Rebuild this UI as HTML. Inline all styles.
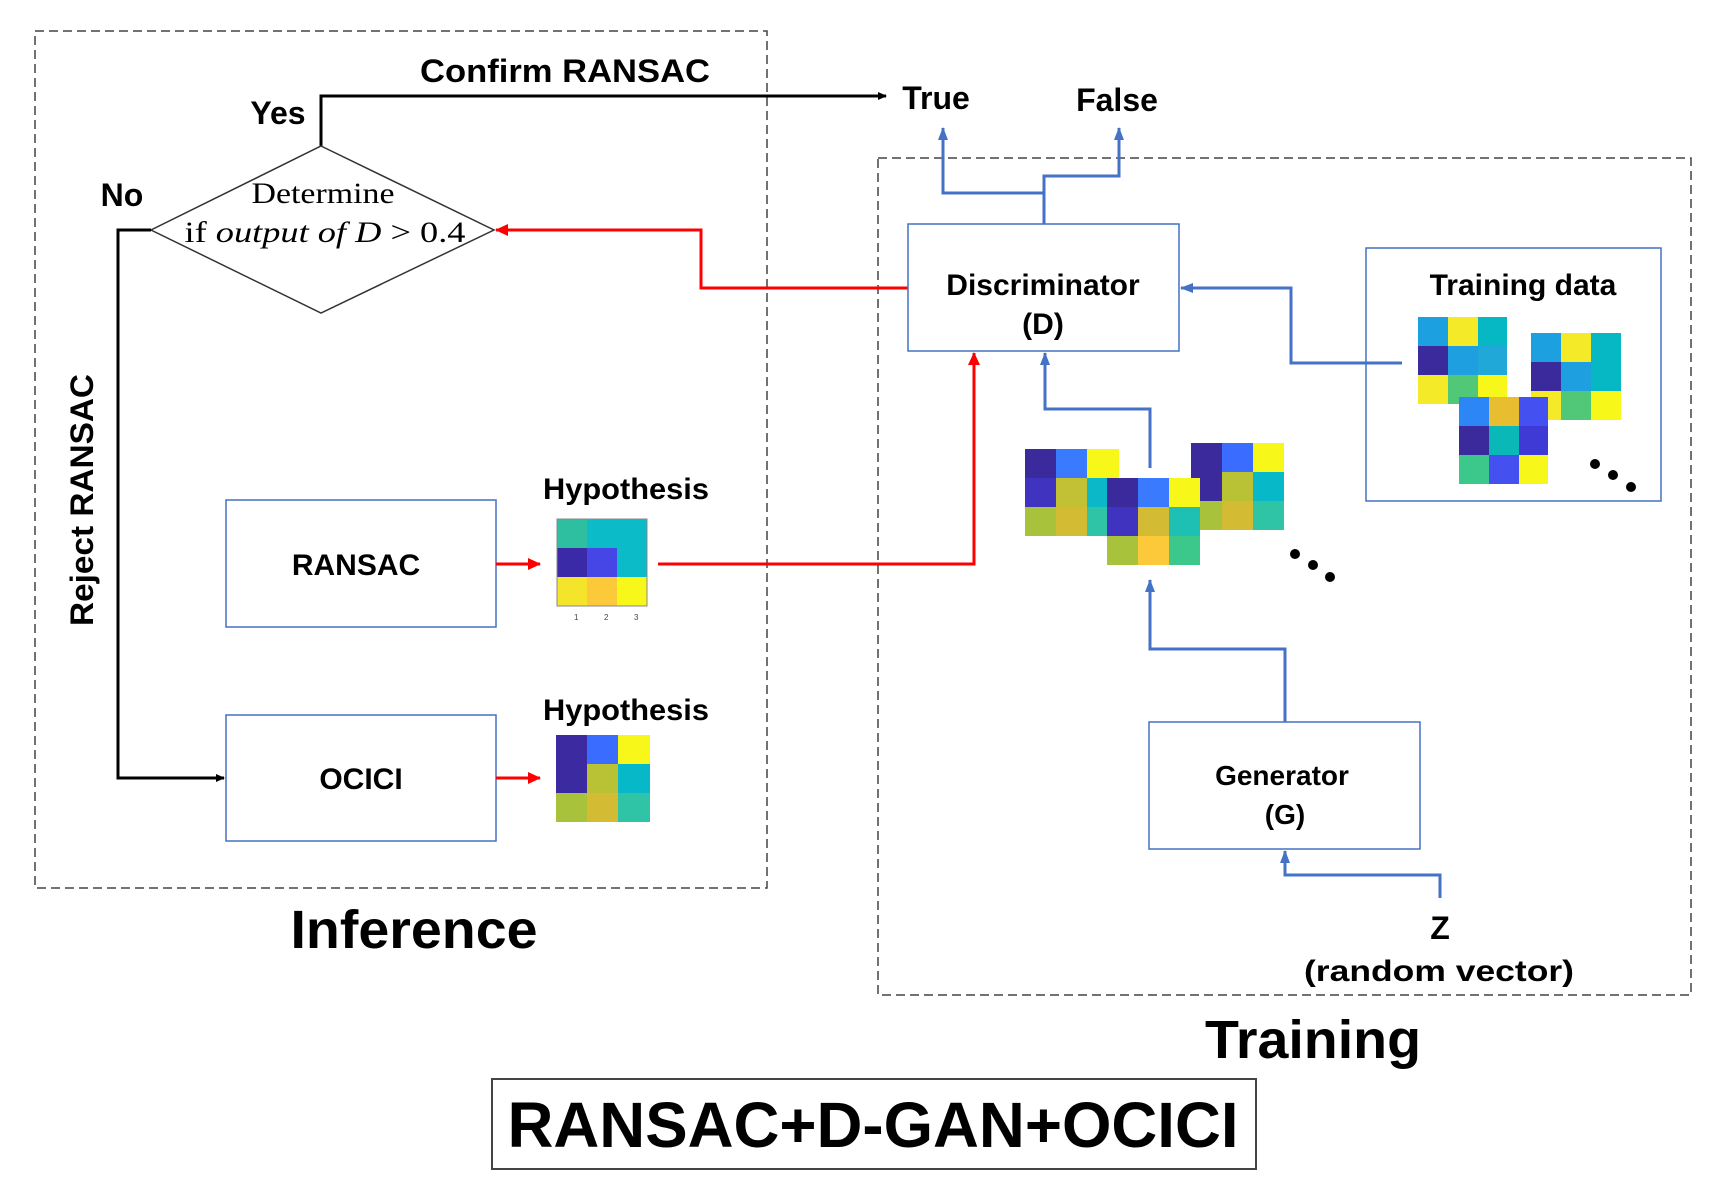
<!DOCTYPE html>
<html><head><meta charset="utf-8"><style>
html,body{margin:0;padding:0;background:#fff;}
svg{display:block;}
.b{font-family:"Liberation Sans",sans-serif;font-weight:bold;fill:#000;}
.s{font-family:"Liberation Serif",serif;fill:#000;}
</style></head><body>
<svg width="1718" height="1196" viewBox="0 0 1718 1196" xmlns="http://www.w3.org/2000/svg">
<defs>
<marker id="ak" markerWidth="10" markerHeight="10" refX="8" refY="5" orient="auto" markerUnits="userSpaceOnUse"><path d="M0,1 L9,5 L0,9 z" fill="#000"/></marker>
<marker id="ar" markerWidth="14" markerHeight="14" refX="12" refY="7" orient="auto" markerUnits="userSpaceOnUse"><path d="M0,1 L13,7 L0,13 z" fill="#f00"/></marker>
<marker id="ab" markerWidth="14" markerHeight="14" refX="12" refY="7" orient="auto" markerUnits="userSpaceOnUse"><path d="M0,2 L13,7 L0,12 z" fill="#4472c4"/></marker>
</defs>

<rect x="35" y="31" width="732" height="857" fill="none" stroke="#444" stroke-width="1.5" stroke-dasharray="9,5"/>
<rect x="878" y="158" width="813" height="837" fill="none" stroke="#444" stroke-width="1.5" stroke-dasharray="9,5"/>

<text class="b" x="565" y="82" font-size="32" text-anchor="middle" textLength="290" lengthAdjust="spacingAndGlyphs">Confirm RANSAC</text>
<polyline points="321,146 321,96 886,96" fill="none" stroke="#000" stroke-width="3" marker-end="url(#ak)"/>
<text class="b" x="278" y="124" font-size="32" text-anchor="middle">Yes</text>
<text class="b" x="122" y="206" font-size="32" text-anchor="middle">No</text>
<polygon points="321,146 494,230 321,313 151,230" fill="#fff" stroke="#333" stroke-width="1.5"/>
<text class="s" x="323" y="203" font-size="30" text-anchor="middle" textLength="143" lengthAdjust="spacingAndGlyphs">Determine</text>
<text class="s" x="325" y="242" font-size="30" text-anchor="middle" textLength="281" lengthAdjust="spacingAndGlyphs">if <tspan font-style="italic">output of D</tspan> &gt; 0.4</text>
<polyline points="151,230 118,230 118,778 224,778" fill="none" stroke="#000" stroke-width="3" marker-end="url(#ak)"/>
<text class="b" x="0" y="0" font-size="32" text-anchor="middle" transform="translate(93,500) rotate(-90)" textLength="252" lengthAdjust="spacingAndGlyphs">Reject RANSAC</text>

<rect x="226" y="500" width="270" height="127" fill="#fff" stroke="#4472c4" stroke-width="1.5"/>
<text class="b" x="356" y="575" font-size="30" text-anchor="middle">RANSAC</text>
<rect x="226" y="715" width="270" height="126" fill="#fff" stroke="#4472c4" stroke-width="1.5"/>
<text class="b" x="361" y="789" font-size="30" text-anchor="middle">OCICI</text>

<line x1="496" y1="564" x2="540" y2="564" stroke="#f00" stroke-width="3" marker-end="url(#ar)"/>
<line x1="496" y1="778" x2="540" y2="778" stroke="#f00" stroke-width="3" marker-end="url(#ar)"/>

<text class="b" x="626" y="499" font-size="30" text-anchor="middle" textLength="166" lengthAdjust="spacingAndGlyphs">Hypothesis</text>
<text class="b" x="626" y="720" font-size="30" text-anchor="middle" textLength="166" lengthAdjust="spacingAndGlyphs">Hypothesis</text>

<g transform="translate(557,519)">
<rect x="0" y="0" width="30" height="29" fill="#2dbfa0"/><rect x="30" y="0" width="30" height="29" fill="#0bbcc8"/><rect x="60" y="0" width="30" height="29" fill="#0bbcc8"/>
<rect x="0" y="29" width="30" height="29" fill="#3a2aa8"/><rect x="30" y="29" width="30" height="29" fill="#4646e6"/><rect x="60" y="29" width="30" height="29" fill="#0bbcc8"/>
<rect x="0" y="58" width="30" height="29" fill="#f5e52a"/><rect x="30" y="58" width="30" height="29" fill="#fcc93a"/><rect x="60" y="58" width="30" height="29" fill="#f7f71a"/>
<rect x="0" y="0" width="90" height="87" fill="none" stroke="#888" stroke-width="1"/>
<text x="17" y="101" font-size="8" font-family="Liberation Sans" fill="#444">1</text><text x="47" y="101" font-size="8" font-family="Liberation Sans" fill="#444">2</text><text x="77" y="101" font-size="8" font-family="Liberation Sans" fill="#444">3</text>
</g>
<g transform="translate(556,735)">
<rect x="0" y="0" width="31" height="29" fill="#3b2aa0"/><rect x="31" y="0" width="31" height="29" fill="#3a6cff"/><rect x="62" y="0" width="32" height="29" fill="#f7f71a"/>
<rect x="0" y="29" width="31" height="29" fill="#3b2aa0"/><rect x="31" y="29" width="31" height="29" fill="#b8c234"/><rect x="62" y="29" width="32" height="29" fill="#06b8c8"/>
<rect x="0" y="58" width="31" height="29" fill="#a8c23c"/><rect x="31" y="58" width="31" height="29" fill="#d4bb34"/><rect x="62" y="58" width="32" height="29" fill="#2fc4a6"/>
</g>

<polyline points="658,564 974,564 974,353" fill="none" stroke="#f00" stroke-width="3" marker-end="url(#ar)"/>
<polyline points="908,288 701,288 701,230 496,230" fill="none" stroke="#f00" stroke-width="3" marker-end="url(#ar)"/>

<text class="b" x="414" y="948" font-size="54" text-anchor="middle" textLength="247" lengthAdjust="spacingAndGlyphs">Inference</text>

<text class="b" x="936" y="109" font-size="32" text-anchor="middle">True</text>
<text class="b" x="1117" y="111" font-size="32" text-anchor="middle">False</text>
<polyline points="1044,224 1044,193 943,193 943,128" fill="none" stroke="#4472c4" stroke-width="3" marker-end="url(#ab)"/>
<polyline points="1044,193 1044,176 1119,176 1119,128" fill="none" stroke="#4472c4" stroke-width="3" marker-end="url(#ab)"/>

<rect x="908" y="224" width="271" height="127" fill="#fff" stroke="#4472c4" stroke-width="1.5"/>
<text class="b" x="1043" y="295" font-size="30" text-anchor="middle">Discriminator</text>
<text class="b" x="1043" y="334" font-size="30" text-anchor="middle">(D)</text>

<rect x="1366" y="248" width="295" height="253" fill="#fff" stroke="#4472c4" stroke-width="1.5"/>
<text class="b" x="1523" y="295" font-size="30" text-anchor="middle">Training data</text>
<polyline points="1402,363 1291,363 1291,288 1181,288" fill="none" stroke="#4472c4" stroke-width="3" marker-end="url(#ab)"/>

<g transform="translate(1418,317)">
<rect x="0" y="0" width="30" height="29" fill="#1ca0e0"/><rect x="30" y="0" width="30" height="29" fill="#f4ea28"/><rect x="60" y="0" width="29" height="29" fill="#05b8c4"/>
<rect x="0" y="29" width="30" height="29" fill="#3b2a9c"/><rect x="30" y="29" width="30" height="29" fill="#1ea0e0"/><rect x="60" y="29" width="29" height="29" fill="#20a8d8"/>
<rect x="0" y="58" width="30" height="29" fill="#f4ea28"/><rect x="30" y="58" width="30" height="29" fill="#50c878"/><rect x="60" y="58" width="29" height="29" fill="#f7f71a"/>
</g>
<g transform="translate(1531,333)">
<rect x="0" y="0" width="30" height="29" fill="#1ca0e0"/><rect x="30" y="0" width="30" height="29" fill="#f4ea28"/><rect x="60" y="0" width="30" height="29" fill="#05b8c4"/>
<rect x="0" y="29" width="30" height="29" fill="#3b2a9c"/><rect x="30" y="29" width="30" height="29" fill="#1ea0e0"/><rect x="60" y="29" width="30" height="29" fill="#05b8c4"/>
<rect x="0" y="58" width="30" height="29" fill="#f4ea28"/><rect x="30" y="58" width="30" height="29" fill="#50c878"/><rect x="60" y="58" width="30" height="29" fill="#f7f71a"/>
</g>
<g transform="translate(1459,397)">
<rect x="0" y="0" width="30" height="29" fill="#2d86f5"/><rect x="30" y="0" width="30" height="29" fill="#e8bd30"/><rect x="60" y="0" width="29" height="29" fill="#4550f0"/>
<rect x="0" y="29" width="30" height="29" fill="#3b2a9c"/><rect x="30" y="29" width="30" height="29" fill="#0ab8b8"/><rect x="60" y="29" width="29" height="29" fill="#3f3ad6"/>
<rect x="0" y="58" width="30" height="29" fill="#3bc88a"/><rect x="30" y="58" width="30" height="29" fill="#4550f0"/><rect x="60" y="58" width="29" height="29" fill="#f7f71a"/>
</g>
<circle cx="1595" cy="464" r="5" fill="#000"/><circle cx="1613" cy="475" r="5" fill="#000"/><circle cx="1631" cy="487" r="5" fill="#000"/>

<g transform="translate(1025,449)">
<rect x="0" y="0" width="31" height="29" fill="#3b2a9c"/><rect x="31" y="0" width="31" height="29" fill="#3a7aff"/><rect x="62" y="0" width="32" height="29" fill="#f7f71a"/>
<rect x="0" y="29" width="31" height="29" fill="#4033c0"/><rect x="31" y="29" width="31" height="29" fill="#c2c034"/><rect x="62" y="29" width="32" height="29" fill="#0ab8c8"/>
<rect x="0" y="58" width="31" height="29" fill="#a8c23c"/><rect x="31" y="58" width="31" height="29" fill="#d4bb34"/><rect x="62" y="58" width="32" height="29" fill="#2fc4a6"/>
</g>
<g transform="translate(1191,443)">
<rect x="0" y="0" width="31" height="29" fill="#3b2a9c"/><rect x="31" y="0" width="31" height="29" fill="#3a6cff"/><rect x="62" y="0" width="31" height="29" fill="#f7f71a"/>
<rect x="0" y="29" width="31" height="29" fill="#3b2a9c"/><rect x="31" y="29" width="31" height="29" fill="#b8c234"/><rect x="62" y="29" width="31" height="29" fill="#06b8c8"/>
<rect x="0" y="58" width="31" height="29" fill="#a8c23c"/><rect x="31" y="58" width="31" height="29" fill="#d4bb34"/><rect x="62" y="58" width="31" height="29" fill="#2fc4a6"/>
</g>
<g transform="translate(1107,478)">
<rect x="0" y="0" width="31" height="29" fill="#3b2a9c"/><rect x="31" y="0" width="31" height="29" fill="#3a7aff"/><rect x="62" y="0" width="31" height="29" fill="#f7f71a"/>
<rect x="0" y="29" width="31" height="29" fill="#4033c0"/><rect x="31" y="29" width="31" height="29" fill="#d4bb34"/><rect x="62" y="29" width="31" height="29" fill="#1ec0b4"/>
<rect x="0" y="58" width="31" height="29" fill="#a8c23c"/><rect x="31" y="58" width="31" height="29" fill="#fcc93a"/><rect x="62" y="58" width="31" height="29" fill="#3bc88a"/>
</g>
<circle cx="1295" cy="554" r="5" fill="#000"/><circle cx="1313" cy="565" r="5" fill="#000"/><circle cx="1330" cy="577" r="5" fill="#000"/>

<polyline points="1150,468 1150,409 1045,409 1045,353" fill="none" stroke="#4472c4" stroke-width="3" marker-end="url(#ab)"/>
<polyline points="1285,722 1285,649 1150,649 1150,580" fill="none" stroke="#4472c4" stroke-width="3" marker-end="url(#ab)"/>

<rect x="1149" y="722" width="271" height="127" fill="#fff" stroke="#4472c4" stroke-width="1.5"/>
<text class="b" x="1282" y="785" font-size="28" text-anchor="middle">Generator</text>
<text class="b" x="1285" y="824" font-size="28" text-anchor="middle">(G)</text>

<polyline points="1440,898 1440,875 1285,875 1285,851" fill="none" stroke="#4472c4" stroke-width="3" marker-end="url(#ab)"/>
<text class="b" x="1440" y="939" font-size="32" text-anchor="middle" font-weight="normal">Z</text>
<text class="b" x="1439" y="981" font-size="30" text-anchor="middle" textLength="270" lengthAdjust="spacingAndGlyphs">(random vector)</text>

<text class="b" x="1313" y="1058" font-size="54" text-anchor="middle" textLength="216" lengthAdjust="spacingAndGlyphs">Training</text>

<rect x="492" y="1079" width="764" height="90" fill="#fff" stroke="#444" stroke-width="2"/>
<text class="b" x="873" y="1147" font-size="64" text-anchor="middle" textLength="731" lengthAdjust="spacingAndGlyphs">RANSAC+D-GAN+OCICI</text>
</svg>
</body></html>
